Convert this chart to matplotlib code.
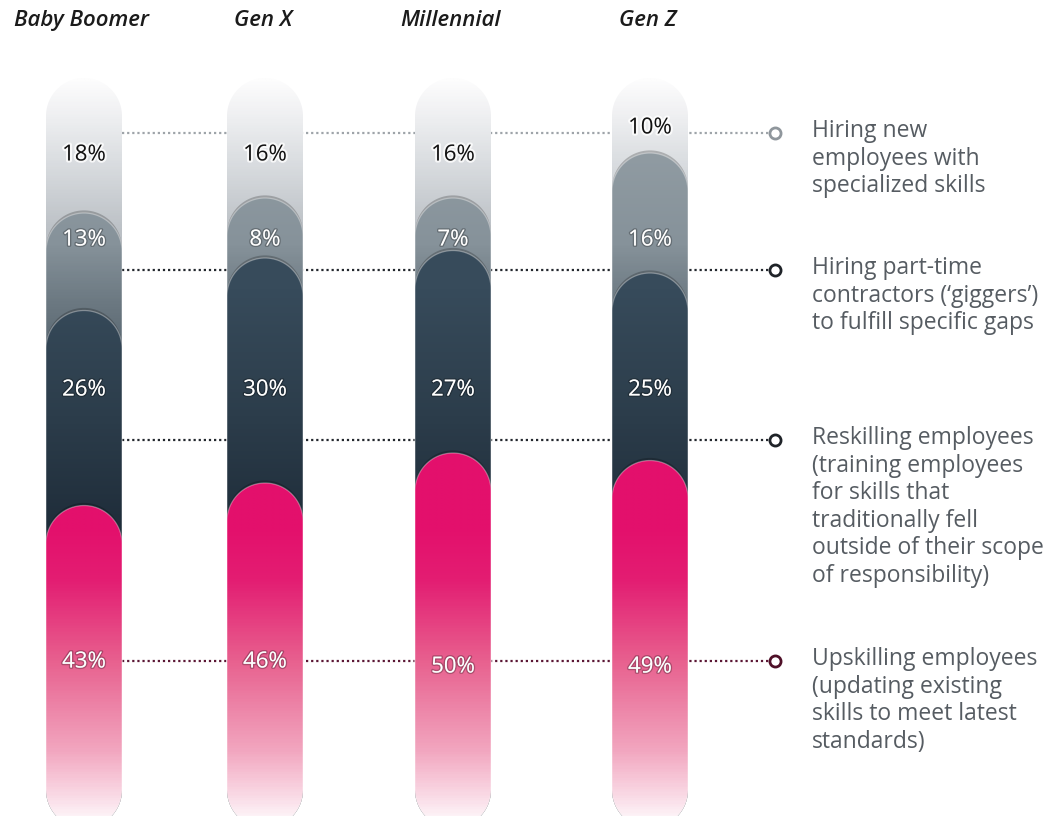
import numpy as np
import matplotlib
matplotlib.use("Agg")
import matplotlib.pyplot as plt
import matplotlib.patheffects as pe
from matplotlib.path import Path
from matplotlib.patches import PathPatch
from matplotlib.colors import LinearSegmentedColormap

# ---- data -------------------------------------------------------------
GENERATIONS = ["Baby Boomer", "Gen X", "Millennial", "Gen Z"]
UPSKILLING = [43, 46, 50, 49]
RESKILLING = [26, 30, 27, 25]
PART_TIME = [13, 8, 7, 16]
HIRING_NEW = [18, 16, 16, 10]
SERIES_LABELS = [
    "Upskilling employees\n(updating existing\nskills to meet latest\nstandards)",
    "Reskilling employees\n(training employees\nfor skills that\ntraditionally fell\noutside of their scope\nof responsibility)",
    "Hiring part-time\ncontractors (\u2018giggers\u2019)\nto fulfill specific gaps",
    "Hiring new\nemployees with\nspecialized skills",
]

# ---- layout (canvas pixels) -------------------------------------------
W, H = 1055, 816
BAR_X = [84, 265, 453, 650]
BAR_HALF = 38
PX_PER_PCT = 7.5
TOP_PX = 78            # pixel row of the 100 % mark
LEGEND_DOT_X = 775
LEGEND_TEXT_X = 812
LEADER_PX = [661, 440, 270, 133]          # one row per series, bottom -> top
VALUE_PX = [[662, 662, 667, 667],
            [390, 390, 390, 390],
            [240, 240, 240, 240],
            [155, 155, 155, 128]]

FONT = ["Open Sans", "DejaVu Sans"]
plt.rcParams["font.family"] = FONT


def px_to_pct(px):
    return (TOP_PX + 100 * PX_PER_PCT - px) / PX_PER_PCT


def ramp(stops):
    return LinearSegmentedColormap.from_list("", [(p / 100, c) for p, c in stops])


# gradient colour by absolute height (percent) for each series
CMAPS = [
    ramp([(0, "#ffffff"), (3, "#fbe3ec"), (10, "#f2a7c0"), (22, "#e8618f"),
          (33, "#e31d72"), (40, "#e3106c"), (100, "#e3106c")]),
    ramp([(0, "#1c2833"), (40, "#1f2d3a"), (55, "#2c3d4b"), (72, "#374b5b"), (100, "#3a4e5f")]),
    ramp([(0, "#4a5864"), (62, "#55636e"), (70, "#6b7881"), (78, "#86929a"),
          (90, "#909ba2"), (100, "#95a0a6")]),
    ramp([(0, "#b0b6bb"), (80, "#bcc1c6"), (90, "#dde0e3"), (95, "#eeeff1"),
          (98, "#f7f7f8"), (100, "#fdfdfd")]),
]
LEADER_COLORS = ["#5b1634", "#23272d", "#23272d", "#9ea4a9"]
DOT_COLORS = ["#4f1028", "#1f2328", "#1f2328", "#8f969c"]


def capsule(cx, top):
    """Vertical pill shape from 0 up to `top` with round ends."""
    rx = BAR_HALF
    ry = BAR_HALF / PX_PER_PCT
    t = np.linspace(0, np.pi, 48)
    top_arc = np.column_stack([cx + rx * np.cos(t), top - ry + ry * np.sin(t)])
    bot_arc = np.column_stack([cx - rx * np.cos(t), ry - ry * np.sin(t)])
    verts = np.vstack([top_arc, bot_arc, top_arc[:1]])
    codes = [Path.MOVETO] + [Path.LINETO] * (len(verts) - 2) + [Path.CLOSEPOLY]
    return Path(verts, codes)


fig = plt.figure(figsize=(W / 100, H / 100), dpi=100)
ax = fig.add_axes([0, 0, 1, 1])
ax.set_xlim(0, W)
ax.set_ylim(px_to_pct(H), px_to_pct(0))
ax.axis("off")

series = [UPSKILLING, RESKILLING, PART_TIME, HIRING_NEW]
tops = np.cumsum(np.array(series), axis=0)   # top of each segment
grad = np.linspace(0, 100, 600).reshape(-1, 1)

for i, cx in enumerate(BAR_X):
    # draw from the top segment downwards so lower ones overlap
    for s in range(len(series) - 1, -1, -1):
        top = tops[s, i]
        if s < len(series) - 1:
            shadow = PathPatch(capsule(cx, top + 0.35), facecolor="black",
                               edgecolor="none", alpha=0.22, zorder=3 + 2 * (3 - s))
            ax.add_patch(shadow)
        patch = PathPatch(capsule(cx, top), facecolor="none", edgecolor="none",
                          zorder=4 + 2 * (3 - s))
        ax.add_patch(patch)
        img = ax.imshow(grad, cmap=CMAPS[s], vmin=0, vmax=100, origin="lower",
                        extent=[cx - BAR_HALF, cx + BAR_HALF, 0, 100],
                        aspect="auto", interpolation="bilinear",
                        zorder=4 + 2 * (3 - s))
        img.set_clip_path(patch)
        if s < len(series) - 1:
            ax.add_patch(PathPatch(capsule(cx, top), facecolor="none",
                                   edgecolor="white", lw=0.9, alpha=0.35,
                                   zorder=4.5 + 2 * (3 - s)))

    # value labels
    for s in range(len(series)):
        y = px_to_pct(VALUE_PX[s][i])
        if s == 3:
            ax.text(cx, y, f"{series[s][i]}%", ha="center", va="center",
                    fontsize=16, fontweight="medium", color="#111111", zorder=20,
                    path_effects=[pe.withStroke(linewidth=3, foreground="#ffffffcc")])
        else:
            ax.text(cx, y, f"{series[s][i]}%", ha="center", va="center",
                    fontsize=16, fontweight="medium", color="white", zorder=20,
                    path_effects=[pe.withStroke(linewidth=2, foreground="#00000040")])

    ax.text(cx - 2, px_to_pct(20), GENERATIONS[i], ha="center", va="center",
            fontsize=16, style="italic", fontweight="semibold", color="#1b1b1b")

# dotted leader lines, end dots and series labels
for s in range(len(series)):
    y = px_to_pct(LEADER_PX[s])
    ax.plot([BAR_X[0] + BAR_HALF, LEGEND_DOT_X - 5], [y, y], color=LEADER_COLORS[s],
            lw=1.6, dashes=(1, 1.3), zorder=1)
    ax.plot([LEGEND_DOT_X], [y], marker="o", markersize=8, markerfacecolor="white",
            markeredgecolor=DOT_COLORS[s], markeredgewidth=2, zorder=2)
    ax.text(LEGEND_TEXT_X, y + 14 / PX_PER_PCT, SERIES_LABELS[s], ha="left", va="top",
            fontsize=16.5, color="#565c62", linespacing=1.2)

fig.savefig("out.png", dpi=100)
